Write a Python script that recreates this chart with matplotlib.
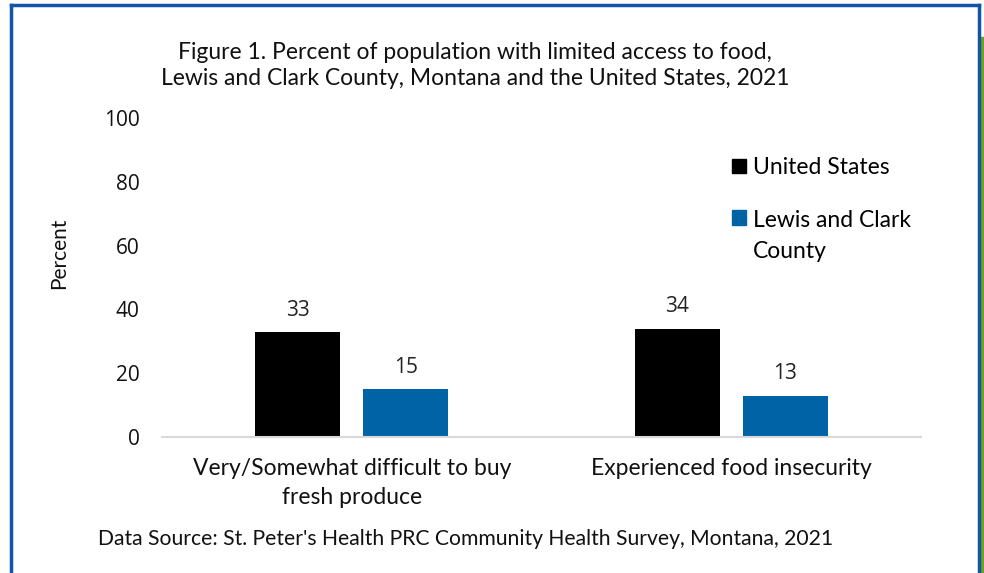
import matplotlib.pyplot as plt
from matplotlib.patches import Rectangle, Patch
from matplotlib.lines import Line2D
import numpy as np

categories = ['Very/Somewhat difficult to buy\nfresh produce', 'Experienced food insecurity']
series_names = ['United States', 'Lewis and Clark\nCounty']
us_values = [33, 34]
lc_values = [15, 13]
colors = ['#000000', '#0063A6']

plt.rcParams['font.family'] = ['Lato', 'DejaVu Sans']

fig = plt.figure(figsize=(9.84, 5.73), dpi=100)
ax = fig.add_axes([0.1646, 0.2373, 0.7713, 0.5567])

x = np.arange(len(categories))
w = 0.224
off = 0.142
b1 = ax.bar(x - off, us_values, w, color=colors[0], label=series_names[0])
b2 = ax.bar(x + off, lc_values, w, color=colors[1], label=series_names[1])
for b in (b1, b2):
    ax.bar_label(b, padding=8, fontsize=15, family=['Open Sans', 'DejaVu Sans'], color='#222222')

ax.set_xlim(-0.5, 1.5)
ax.set_ylim(0, 100)
ax.set_yticks(range(0, 101, 20))
ax.set_xticks(x)
ax.set_xticklabels(categories, fontsize=16.5, color='#111111', linespacing=1.5)
for t in ax.get_yticklabels():
    t.set_family(['Open Sans', 'DejaVu Sans'])
    t.set_fontsize(15)
    t.set_color('#111111')
ax.tick_params(axis='y', length=0, pad=16)
ax.tick_params(axis='x', length=0, pad=15)
for s in ['top', 'right', 'left']:
    ax.spines[s].set_visible(False)
ax.spines['bottom'].set_color('#d9d9d9')
ax.spines['bottom'].set_linewidth(1.5)
ax.set_ylabel('Percent', fontsize=15, color='#111111')
ax.yaxis.set_label_coords(-0.122, 0.575)

fig.text(0.483, 0.885, 'Figure 1. Percent of population with limited access to food,\n'
         'Lewis and Clark County, Montana and the United States, 2021',
         ha='center', va='center', fontsize=16.5, color='#111111', linespacing=1.3)

handles = [Patch(color=colors[0]), Patch(color=colors[1])]
leg = fig.legend(handles, series_names, loc='upper left', bbox_to_anchor=(0.735, 0.742),
                 frameon=False, fontsize=16.5, handlelength=0.6, handleheight=0.6,
                 handletextpad=0.3, labelspacing=1.4, borderaxespad=0)
for t in leg.get_texts():
    t.set_linespacing(1.6)
# put the square next to the first line of a wrapped label
items = [c for col in leg._legend_handle_box.get_children() for c in col.get_children()]
items[1].align = 'top'

fig.text(0.1, 0.06, "Data Source: St. Peter's Health PRC Community Health Survey, Montana, 2021",
         ha='left', va='center', fontsize=15.2, color='#111111')

# page borders
blue = '#1254A6'
fig.add_artist(Line2D([0.0112, 0.0112], [0.0, 0.992], color=blue, lw=2.5, transform=fig.transFigure))
fig.add_artist(Line2D([0.0112, 0.9945], [0.992, 0.992], color=blue, lw=2.5, transform=fig.transFigure))
fig.add_artist(Line2D([0.9945, 0.9945], [0.0, 0.992], color=blue, lw=2.5, transform=fig.transFigure))
fig.add_artist(Rectangle((0.9965, 0.0), 0.0035, 0.935, color='#6BA31F', transform=fig.transFigure))

fig.savefig('out.png', dpi=100)
